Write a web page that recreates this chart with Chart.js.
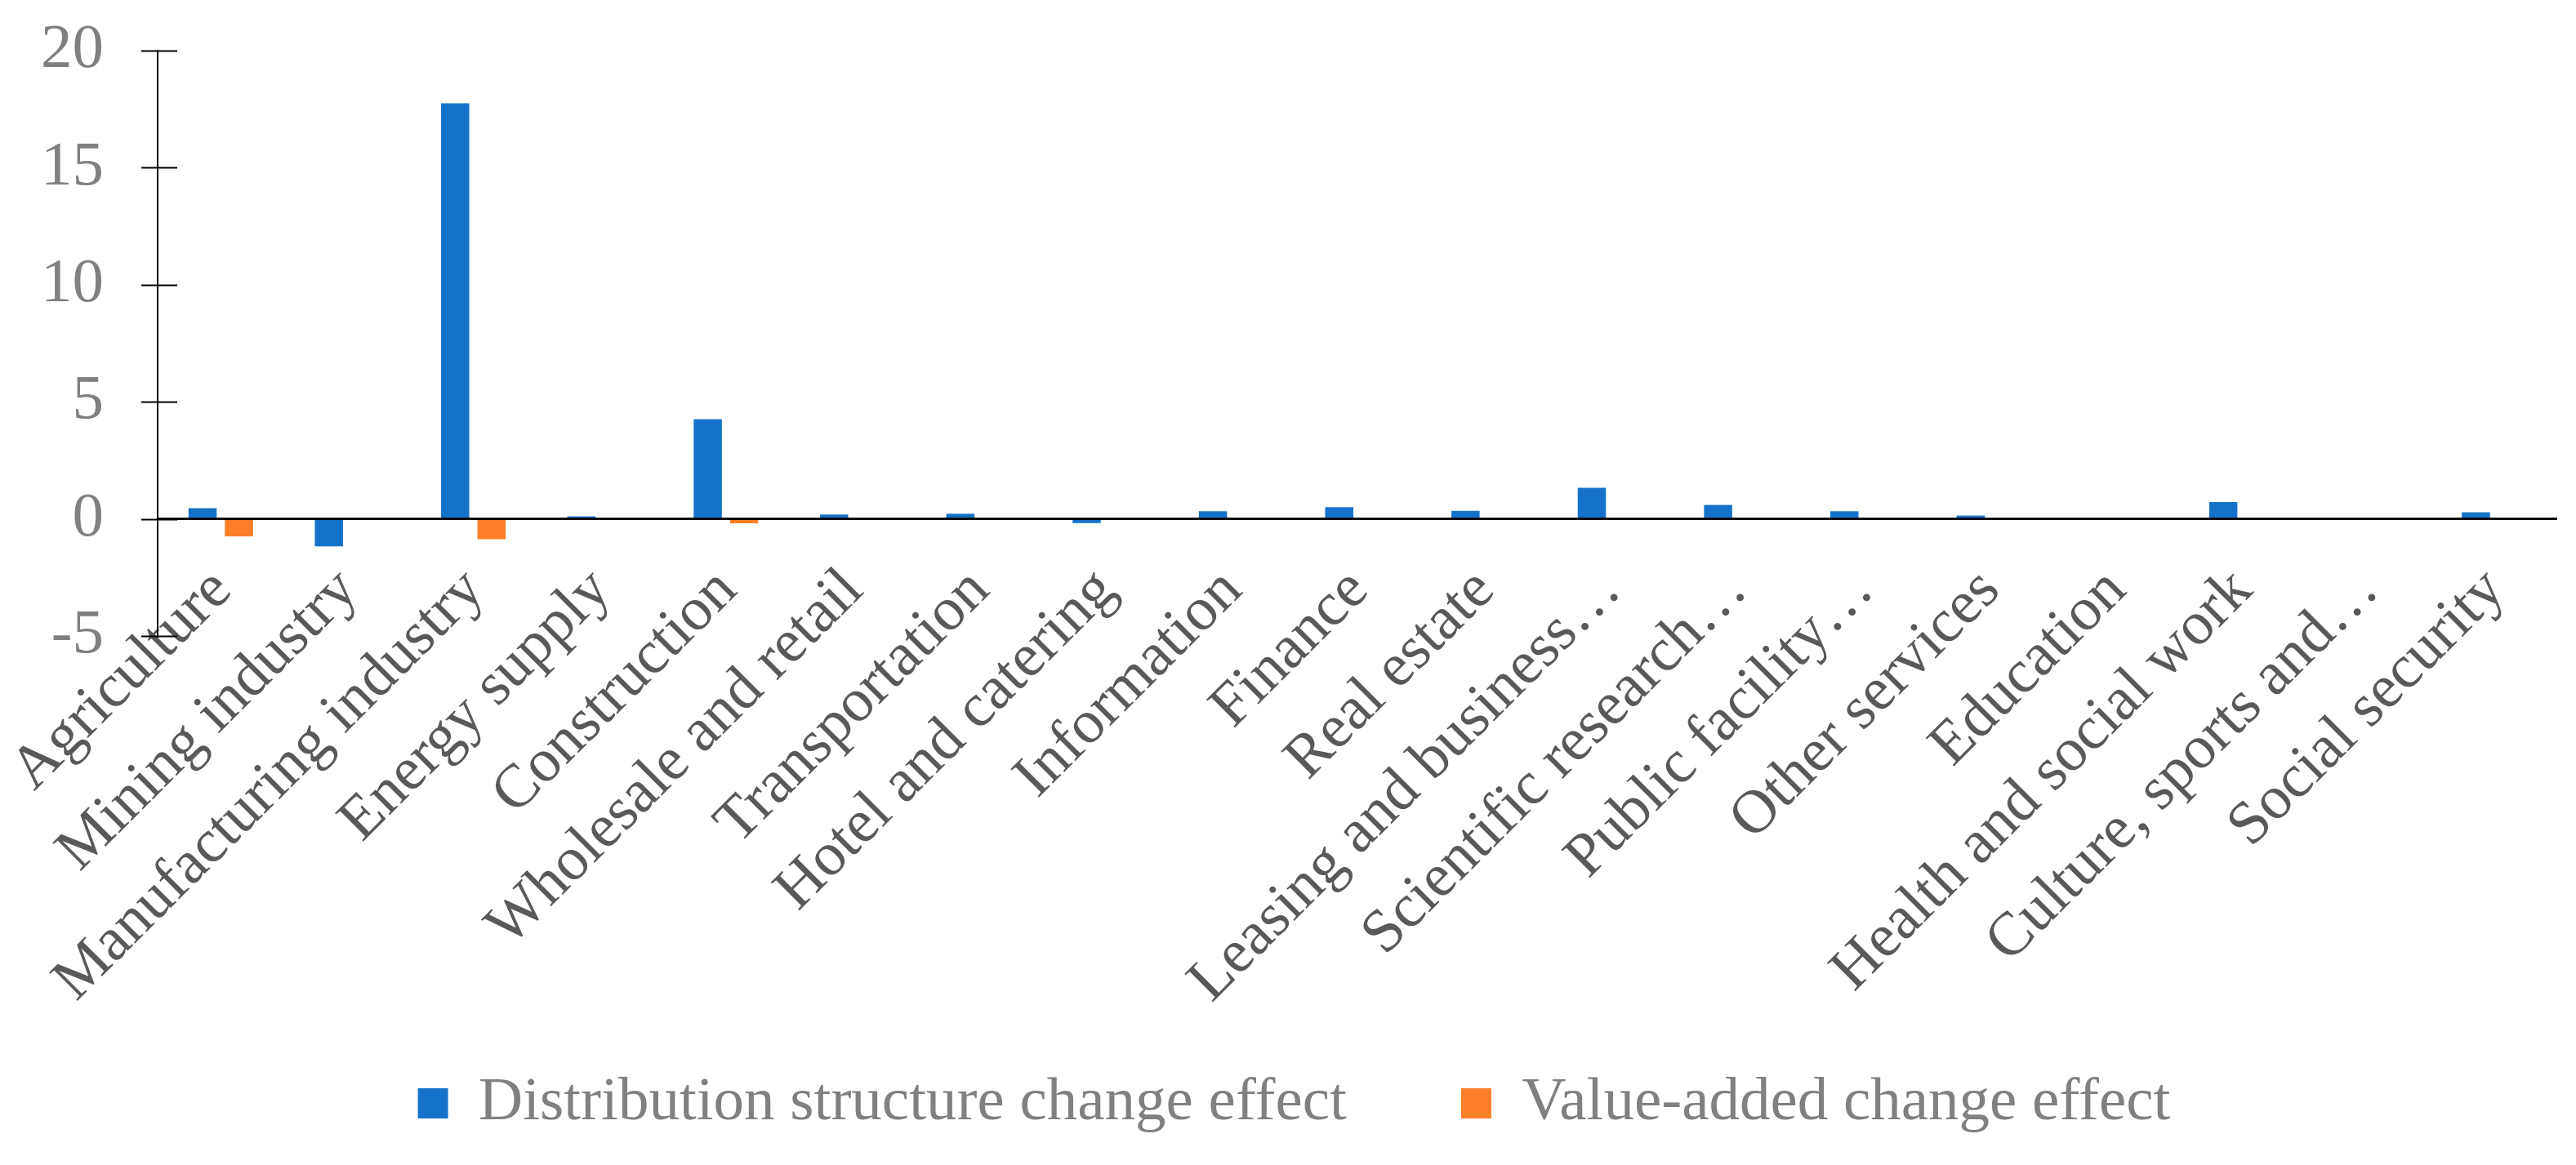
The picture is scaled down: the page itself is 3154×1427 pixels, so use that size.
<!DOCTYPE html>
<html>
<head>
<meta charset="utf-8">
<script src="https://cdn.jsdelivr.net/npm/chart.js@4.4.1/dist/chart.umd.min.js"></script>
<style>
  html, body { margin: 0; padding: 0; background: #fff; }
  #wrap { width: 3154px; height: 1427px; }
</style>
</head>
<body>
<div id="wrap"><canvas id="myChart"></canvas></div>
<script>
// categories and values
const categories = [
  "Agriculture", "Mining industry", "Manufacturing industry", "Energy supply",
  "Construction", "Wholesale and retail", "Transportation", "Hotel and catering",
  "Information", "Finance", "Real estate", "Leasing and business…",
  "Scientific research…", "Public facility…", "Other services", "Education",
  "Health and social work", "Culture, sports and…", "Social security"
];
const distributionEffect = [0.46, -1.17, 17.75, 0.11, 4.26, 0.19, 0.22, -0.18, 0.33, 0.5,
  0.34, 1.33, 0.6, 0.33, 0.14, 0, 0.72, 0, 0.28];
const valueAddedEffect = [-0.75, -0.05, -0.87, -0.05, -0.19, -0.05, -0.05, -0.05, -0.05, -0.05,
  -0.05, -0.05, -0.05, -0.05, -0.05, -0.05, -0.05, -0.05, -0.05];
const yMin = -5, yMax = 20, yStep = 5;

const serif = "'Liberation Serif', 'Times New Roman', serif";
const clear = "rgba(0,0,0,0)";

// short tick marks crossing the value axis
const crossTicks = {
  id: "crossTicks",
  afterDraw(chart) {
    const y = chart.scales.y;
    const ctx = chart.ctx;
    ctx.save();
    ctx.strokeStyle = "#000";
    ctx.lineWidth = 2;
    y.ticks.forEach(function (t) {
      const py = Math.round(y.getPixelForValue(t.value)) + 0.5;
      ctx.beginPath();
      ctx.moveTo(y.right - 20, py);
      ctx.lineTo(y.right + 24, py);
      ctx.stroke();
    });
    ctx.restore();
  }
};

const data = {
  labels: categories,
  datasets: [
    {
      label: "Distribution structure change effect",
      data: distributionEffect,
      xAxisID: "x",
      backgroundColor: "#1672C8",
      categoryPercentage: 0.576,
      barPercentage: 0.775
    },
    {
      label: "Value-added change effect",
      data: valueAddedEffect,
      xAxisID: "x",
      backgroundColor: "#FD7F28",
      categoryPercentage: 0.576,
      barPercentage: 0.775
    }
  ]
};

const config = {
  type: "bar",
  data: data,
  plugins: [crossTicks],
  options: {
    responsive: true,
    maintainAspectRatio: false,
    animation: false,
    layout: { padding: { top: 62, right: 23, left: 38, bottom: 28 } },
    plugins: {
      tooltip: { enabled: false },
      legend: {
        position: "bottom",
        labels: {
          boxWidth: 37,
          boxHeight: 37,
          padding: 140,
          color: "#808080",
          font: { size: 75, family: serif }
        }
      }
    },
    scales: {
      x: {
        position: { y: 0 },
        grid: { display: true, drawOnChartArea: false, drawTicks: true, tickLength: 44, color: clear, tickColor: clear },
        border: { display: false },
        ticks: {
          autoSkip: false,
          maxRotation: 45,
          minRotation: 45,
          padding: 0,
          labelOffset: 2,
          color: "#595959",
          font: { size: 75, family: serif }
        }
      },
      // empty band that keeps room for the slanted labels above the legend
      x2: {
        type: "category",
        position: "bottom",
        grid: { display: false },
        border: { display: false },
        ticks: { display: false },
        afterFit(scale) { scale.height = 395; }
      },
      y: {
        min: yMin,
        max: yMax,
        ticks: {
          stepSize: yStep,
          padding: 0,
          color: "#808080",
          font: { size: 77, family: serif }
        },
        grid: {
          drawTicks: true,
          tickLength: 66,
          tickColor: clear,
          color: (ctx) => (ctx.tick && ctx.tick.value === 0 ? "#000" : clear),
          lineWidth: 3
        },
        border: { display: true, color: "#000", width: 2 },
        afterFit(scale) { scale.width = 155; }
      }
    }
  }
};

const myChart = new Chart(document.getElementById("myChart"), config);
</script>
</body>
</html>
